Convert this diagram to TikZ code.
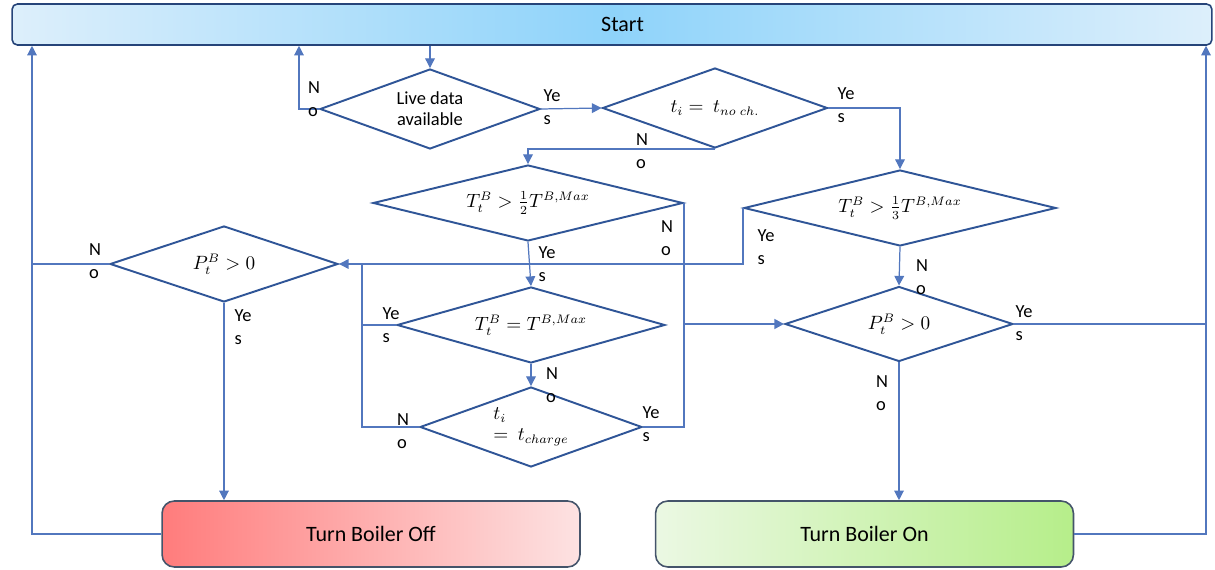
\documentclass[tikz,border=0pt]{standalone}
\usepackage{fontspec}
\setmainfont{Carlito}
\usepackage{amsmath}
\usetikzlibrary{arrows.meta, shapes.geometric}

\definecolor{skyL}{HTML}{DDEFFB}
\definecolor{skyM}{HTML}{8ED3FA}
\definecolor{boxline}{HTML}{44546A}
\definecolor{dline}{HTML}{2F5597}
\definecolor{lnk}{HTML}{5277BE}
\definecolor{offL}{HTML}{FF7C7C}
\definecolor{offR}{HTML}{FDE2E2}
\definecolor{onL}{HTML}{EBF8E3}
\definecolor{onR}{HTML}{B6EE8A}

\tikzset{
  decision/.style={draw=dline, line width=1.1pt, diamond, inner sep=0pt, align=center, font=\fontsize{10.5}{12}\selectfont},
  startbox/.style={draw=dline!80!black, line width=0.9pt, rectangle, rounded corners=3pt, minimum width=24cm, minimum height=0.82cm, left color=skyL, right color=skyL, middle color=skyM, font=\fontsize{12.5}{15}\selectfont},
  endbox/.style={draw=boxline, line width=0.9pt, rectangle, rounded corners=7pt, minimum width=8.36cm, minimum height=1.32cm, font=\fontsize{12.5}{15}\selectfont},
  link/.style={draw=lnk, line width=0.7pt},
  yn/.style={font=\fontsize{10.5}{13}\selectfont, align=left, inner sep=0pt},
}

\begin{document}
\begin{tikzpicture}[x=0.02cm, y=-0.02cm, >={Triangle[length=5.5pt, width=5.5pt]}]
  \useasboundingbox (0,0) rectangle (1215,570);

  \node[startbox] (start) at (612,24.5) {\hspace*{12pt}Start};
  \node[decision, minimum width=4.4cm, minimum height=1.6cm, aspect=2.75] (live) at (430,109) {Live data\\available};
  \node[decision, minimum width=4.5cm, minimum height=1.6cm, aspect=2.8] (noch) at (715,108) {$t_i =\ t_{no\ ch.}$};
  \node[decision, minimum width=6.2cm, minimum height=1.52cm, aspect=4.1] (half) at (528,203) {$T_t^B > \frac{1}{2}T^{B,Max}$};
  \node[decision, minimum width=6.24cm, minimum height=1.52cm, aspect=4.1] (third) at (900,208) {$T_t^B > \frac{1}{3}T^{B,Max}$};
  \node[decision, minimum width=5.36cm, minimum height=1.52cm, aspect=3.5] (full) at (531,325) {$T_t^B = T^{B,Max}$};
  \node[decision, minimum width=4.44cm, minimum height=1.6cm, aspect=2.8, align=left] (charge) at (531,427) {$t_i$\\$=\ t_{charge}$};
  \node[decision, minimum width=4.56cm, minimum height=1.5cm, aspect=3] (powR) at (899,324) {$P_t^B > 0$};
  \node[decision, minimum width=4.56cm, minimum height=1.52cm, aspect=3] (powL) at (224,264) {$P_t^B > 0$};
  \node[endbox, left color=offL, right color=offR] (off) at (371,534) {Turn Boiler Off};
  \node[endbox, left color=onL, right color=onR] (on) at (864.5,534) {Turn Boiler On};

  \coordinate (railL) at (32,0);
  \coordinate (railR) at (1206,0);
  \coordinate (jNo) at (299,0);
  \coordinate (jL) at (362,0);
  \coordinate (jY) at (half.east |- powR.west);

  \draw[link, ->] (live.north |- start.south) -- (live.north);
  \draw[link, ->] (live.west) -| (jNo |- start.south);
  \draw[link, ->] (live.east) -- (noch.west);
  \draw[link, ->] (noch.east) -| (third.north);
  \draw[link, ->] (noch.south) -| (half.north);
  \draw[link, ->] (half.south) -- (full.north);
  \draw[link] (half.east) -- (jY);
  \draw[link, line width=1.4pt, ->] (jY) -- (powR.west);
  \draw[link] (charge.east) -| (jY);
  \draw[link, ->] (third.west) |- (powL.east);
  \draw[link] (full.west) -| (jL |- powL.east);
  \draw[link] (charge.west) -| (jL |- full.west);
  \draw[link, ->] (full.south) -- (charge.north);
  \draw[link, ->] (third.south) -- (powR.north);
  \draw[link] (powR.east) -- (powR.east -| railR);
  \draw[link, ->] (powR.south) -- (powR.south |- on.north);
  \draw[link, ->] (powL.south) -- (powL.south |- off.north);
  \draw[link] (powL.west) -- (powL.west -| railL);
  \draw[link, ->] (off.west) -| (railL |- start.south);
  \draw[link, ->] (on.east) -| (railR |- start.south);

  \node[yn] (liveNo) at (314,99) {N\\o};
  \node[yn] (liveYes) at (552,107) {Ye\\s};
  \node[yn] (nochYes) at (846,105) {Ye\\s};
  \node[yn] (nochNo) at (642,151) {N\\o};
  \node[yn] (halfYes) at (547,264) {Ye\\s};
  \node[yn] (halfNo) at (667,238) {N\\o};
  \node[yn] (thirdYes) at (766,247) {Ye\\s};
  \node[yn] (thirdNo) at (922,277) {N\\o};
  \node[yn] (fullYes) at (391,325) {Ye\\s};
  \node[yn] (fullNo) at (552,385) {N\\o};
  \node[yn] (chargeNo) at (403,431) {N\\o};
  \node[yn] (chargeYes) at (651,424) {Ye\\s};
  \node[yn] (powRYes) at (1024,323) {Ye\\s};
  \node[yn] (powRNo) at (882,393) {N\\o};
  \node[yn] (powLNo) at (95,261) {N\\o};
  \node[yn] (powLYes) at (243,327) {Ye\\s};
\end{tikzpicture}
\end{document}
